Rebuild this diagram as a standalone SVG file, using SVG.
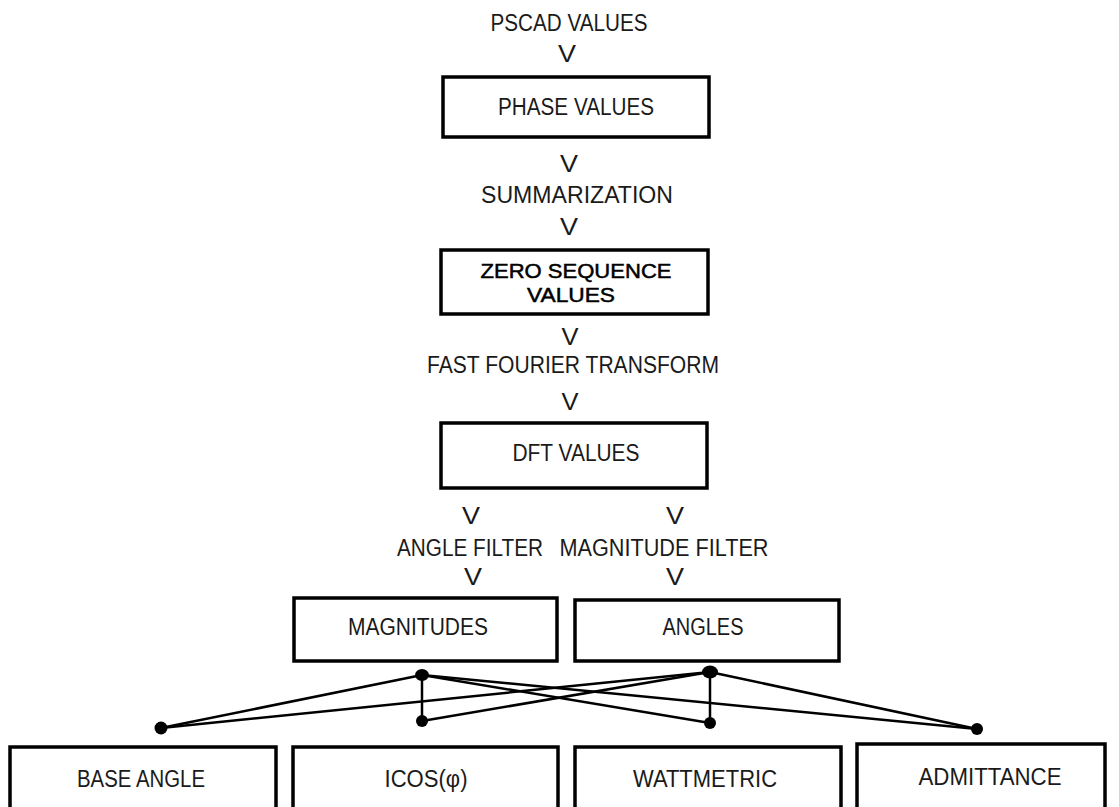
<svg xmlns="http://www.w3.org/2000/svg" width="1119" height="807" viewBox="0 0 1119 807">
  <style>
    .box { fill: #fff; stroke: #000; stroke-width: 3.5; }
    .t { font-family: "Liberation Sans", Arial, sans-serif; font-size: 23px; text-anchor: middle; fill: #1a1a1a; }
    .b { font-family: "Liberation Sans", Arial, sans-serif; font-size: 21px; text-anchor: middle; fill: #000; stroke: #000; stroke-width: 0.5; }
    .w { stroke: #000; stroke-width: 2.5; fill: none; }
    .dot { fill: #000; }
  </style>
  <rect width="1119" height="807" fill="#fff"/>

  <!-- flow labels and arrow marks -->
  <g id="labels">
    <text class="t" x="569" y="31" textLength="157" lengthAdjust="spacingAndGlyphs">PSCAD VALUES</text>
    <text class="t" x="567" y="62" textLength="18" lengthAdjust="spacingAndGlyphs">V</text>
    <text class="t" x="569" y="172" textLength="18" lengthAdjust="spacingAndGlyphs">V</text>
    <text class="t" x="577" y="203" textLength="192" lengthAdjust="spacingAndGlyphs">SUMMARIZATION</text>
    <text class="t" x="569" y="235" textLength="18" lengthAdjust="spacingAndGlyphs">V</text>
    <text class="t" x="570" y="345" textLength="17" lengthAdjust="spacingAndGlyphs">V</text>
    <text class="t" x="573" y="373" textLength="292" lengthAdjust="spacingAndGlyphs">FAST FOURIER TRANSFORM</text>
    <text class="t" x="570" y="410" textLength="17" lengthAdjust="spacingAndGlyphs">V</text>
    <text class="t" x="471" y="524" textLength="18" lengthAdjust="spacingAndGlyphs">V</text>
    <text class="t" x="675" y="524" textLength="18" lengthAdjust="spacingAndGlyphs">V</text>
    <text class="t" x="470" y="556" textLength="146" lengthAdjust="spacingAndGlyphs">ANGLE FILTER</text>
    <text class="t" x="664" y="556" textLength="209" lengthAdjust="spacingAndGlyphs">MAGNITUDE FILTER</text>
    <text class="t" x="473" y="585" textLength="18" lengthAdjust="spacingAndGlyphs">V</text>
    <text class="t" x="675" y="585" textLength="18" lengthAdjust="spacingAndGlyphs">V</text>
  </g>

  <g id="phase-values">
    <rect class="box" x="443" y="77" width="266" height="60"/>
    <text class="t" x="576" y="115" textLength="156" lengthAdjust="spacingAndGlyphs">PHASE VALUES</text>
  </g>

  <g id="zero-sequence-values">
    <rect class="box" x="441" y="250" width="267" height="64"/>
    <text class="b" x="576" y="278" textLength="191" lengthAdjust="spacingAndGlyphs">ZERO SEQUENCE</text>
    <text class="b" x="571" y="302" textLength="88" lengthAdjust="spacingAndGlyphs">VALUES</text>
  </g>

  <g id="dft-values">
    <rect class="box" x="441" y="423" width="266" height="65"/>
    <text class="t" x="576" y="461" textLength="127" lengthAdjust="spacingAndGlyphs">DFT VALUES</text>
  </g>

  <g id="magnitudes">
    <rect class="box" x="294" y="598" width="263" height="63"/>
    <text class="t" x="418" y="635" textLength="140" lengthAdjust="spacingAndGlyphs">MAGNITUDES</text>
  </g>

  <g id="angles">
    <rect class="box" x="575" y="600" width="264" height="61"/>
    <text class="t" x="703" y="635" textLength="81" lengthAdjust="spacingAndGlyphs">ANGLES</text>
  </g>

  <g id="base-angle">
    <rect class="box" x="10" y="747" width="266" height="70"/>
    <text class="t" x="141" y="787" textLength="128" lengthAdjust="spacingAndGlyphs">BASE ANGLE</text>
  </g>

  <g id="icos">
    <rect class="box" x="293" y="747" width="265" height="70"/>
    <text class="t" x="426" y="787" textLength="83" lengthAdjust="spacingAndGlyphs">ICOS(φ)</text>
  </g>

  <g id="wattmetric">
    <rect class="box" x="575" y="747" width="266" height="70"/>
    <text class="t" x="705" y="787" textLength="144" lengthAdjust="spacingAndGlyphs">WATTMETRIC</text>
  </g>

  <g id="admittance">
    <rect class="box" x="857" y="744" width="248" height="73"/>
    <text class="t" x="990" y="785" textLength="143" lengthAdjust="spacingAndGlyphs">ADMITTANCE</text>
  </g>

  <!-- distribution wiring from the two result blocks to the four methods -->
  <g id="connectors">
    <line class="w" x1="422" y1="675" x2="422" y2="721"/>
    <line class="w" x1="710" y1="672" x2="710" y2="723"/>
    <line class="w" x1="422" y1="675" x2="161" y2="728"/>
    <line class="w" x1="422" y1="675" x2="710" y2="723"/>
    <line class="w" x1="422" y1="675" x2="977" y2="729"/>
    <line class="w" x1="710" y1="672" x2="161" y2="728"/>
    <line class="w" x1="710" y1="672" x2="422" y2="721"/>
    <line class="w" x1="710" y1="672" x2="977" y2="729"/>
    <ellipse class="dot" cx="422" cy="675" rx="7" ry="6"/>
    <ellipse class="dot" cx="710" cy="672" rx="8" ry="6.5"/>
    <circle class="dot" cx="161" cy="728" r="6.5"/>
    <circle class="dot" cx="422" cy="721" r="6"/>
    <circle class="dot" cx="710" cy="723" r="6"/>
    <circle class="dot" cx="977" cy="729" r="6"/>
  </g>
</svg>
